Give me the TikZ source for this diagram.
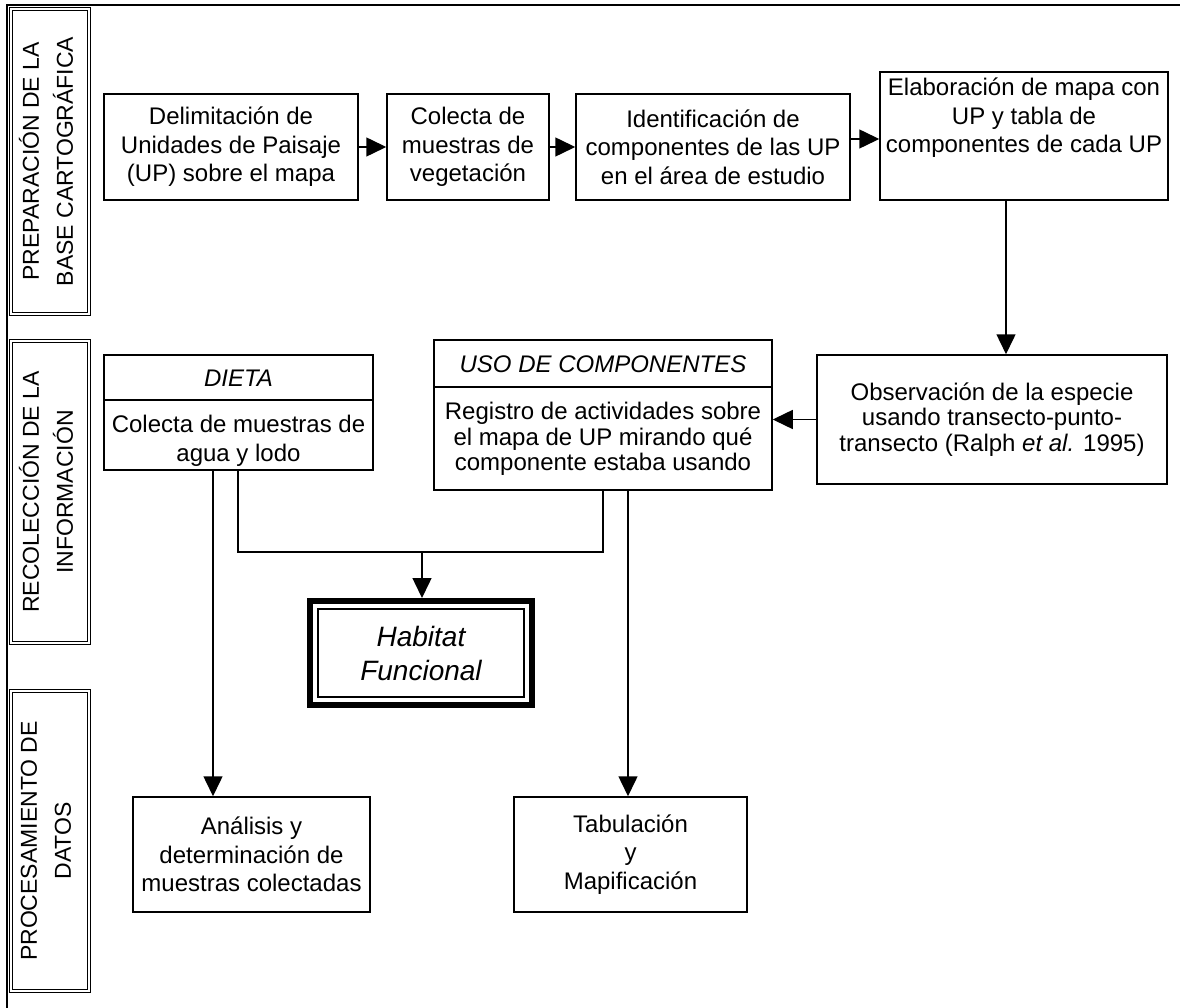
\documentclass[tikz,border=0pt]{standalone}
\usepackage{fontspec}
\setmainfont{Liberation Sans}
\usetikzlibrary{arrows.meta}
\begin{document}
\begin{tikzpicture}[x=1pt,y=-1pt,
  box/.style={draw, line width=1.5pt, align=center, inner sep=0pt, font=\fontsize{24}{28.5}\selectfont},
  txt/.style={align=center, inner sep=0pt, font=\fontsize{24}{28.5}\selectfont},
  sidebox/.style={draw, line width=0.9pt, double, double distance=2.2pt, inner sep=0pt},
  sidetxt/.style={rotate=90, align=center, inner sep=0pt, font=\fontsize{23}{34}\selectfont},
  arr/.style={line width=1.5pt, -{Triangle[length=20pt,width=19pt]}},
  ln/.style={line width=1.5pt}]
\useasboundingbox (0,0) rectangle (1180,1008);
% frame
\coordinate (f0) at (7,1008);
\coordinate (f1) at (7,5);
\coordinate (f2) at (1180,5);
\draw[line width=1.8pt] (f0) -- (f1) -- (f2);
% side boxes
\node[sidebox, minimum width=78pt, minimum height=305pt] (S1) at (50,161.5) {};
\node[sidetxt] (S1t) at (46,161.5) {PREPARACIÓN DE LA\\BASE CARTOGRÁFICA};
\node[sidebox, minimum width=78pt, minimum height=302pt] (S2) at (50,492) {};
\node[sidetxt] (S2t) at (46,492) {RECOLECCIÓN DE LA\\INFORMACIÓN};
\node[sidebox, minimum width=78pt, minimum height=300pt] (S3) at (50,841) {};
\node[sidetxt] (S3t) at (46,841) {PROCESAMIENTO DE\\DATOS};
% top row
\node[box, minimum width=254pt, minimum height=106pt] (A) at (231,147) {Delimitación de\\Unidades de Paisaje\\(UP) sobre el mapa};
\node[box, minimum width=162pt, minimum height=106pt] (B) at (468,147) {Colecta de\\muestras de\\vegetación};
\node[box, minimum width=274pt, minimum height=106pt] (C) at (713,147) {Identificación de\\componentes de las UP\\en el área de estudio};
\node[box, minimum width=288pt, minimum height=128pt] (D) at (1024,136) {};
\node[txt, anchor=north] (Dtx) at (1024,78) {Elaboración de mapa con\\UP y tabla de\\componentes de cada UP};
\draw[arr] (A.east) -- (B.west);
\draw[arr] (B.east) -- (C.west);
\coordinate (cd) at (0,139);
\draw[arr] (C.east |- cd) -- (D.west |- cd);
% observation
\node[box, minimum width=350pt, minimum height=129pt, font=\fontsize{24}{25.5}\selectfont] (E) at (992,419.5) {Observación de la especie\\usando transecto-punto-\\transecto (Ralph \textit{et al.} 1995)};
\coordinate (de) at (1006,0);
\draw[arr] (D.south -| de) -- (E.north -| de);
% uso de componentes
\node[box, minimum width=338pt, minimum height=150pt] (U) at (603,415) {};
\coordinate (us) at (0,387);
\draw[line width=2.8pt] (U.west |- us) -- (U.east |- us);
\node[txt, font=\fontsize{24}{28.5}\selectfont\itshape] (Uh) at (603,364) {USO DE COMPONENTES};
\node[txt, font=\fontsize{24}{25.5}\selectfont] (Ub) at (603,439) {Registro de actividades sobre\\el mapa de UP mirando qué\\componente estaba usando};
\draw[arr] (E.west) -- (E.west -| U.east);
% dieta
\node[box, minimum width=269pt, minimum height=115pt] (Di) at (238.5,412.5) {};
\coordinate (ds) at (0,400);
\draw[line width=2.8pt] (Di.west |- ds) -- (Di.east |- ds);
\node[txt, font=\fontsize{24}{28.5}\selectfont\itshape] (Dih) at (238.5,378) {DIETA};
\node[txt] (Dib) at (238.5,441) {Colecta de muestras de\\agua y lodo};
% habitat
\node[draw, line width=6pt, minimum width=222pt, minimum height=104pt, inner sep=0pt] (H) at (421,653) {};
\node[draw, line width=1.4pt, minimum width=206pt, minimum height=88pt, inner sep=0pt, align=center, font=\fontsize{28}{34}\selectfont\itshape] (Hin) at (H.center) {Habitat\\Funcional};
% bottom row
\node[box, minimum width=237pt, minimum height=115pt] (An) at (251.5,854.5) {Análisis y\\determinación de\\muestras colectadas};
\node[box, minimum width=233pt, minimum height=115pt] (Tb) at (630.5,854.5) {Tabulación\\y\\Mapificación};
% connectors
\coordinate (x1) at (213,0);
\draw[arr] (Di.south -| x1) -- (An.north -| x1);
\coordinate (j1) at (238,552);
\coordinate (j2) at (603,552);
\draw[ln] (Di.south -| j1) -- (j1) -- (j2) -- (U.south -| j2);
\coordinate (jh) at (422,552);
\draw[arr] (jh) -- (H.north -| jh);
\coordinate (x2) at (628,0);
\draw[arr] (U.south -| x2) -- (Tb.north -| x2);
\end{tikzpicture}
\end{document}
